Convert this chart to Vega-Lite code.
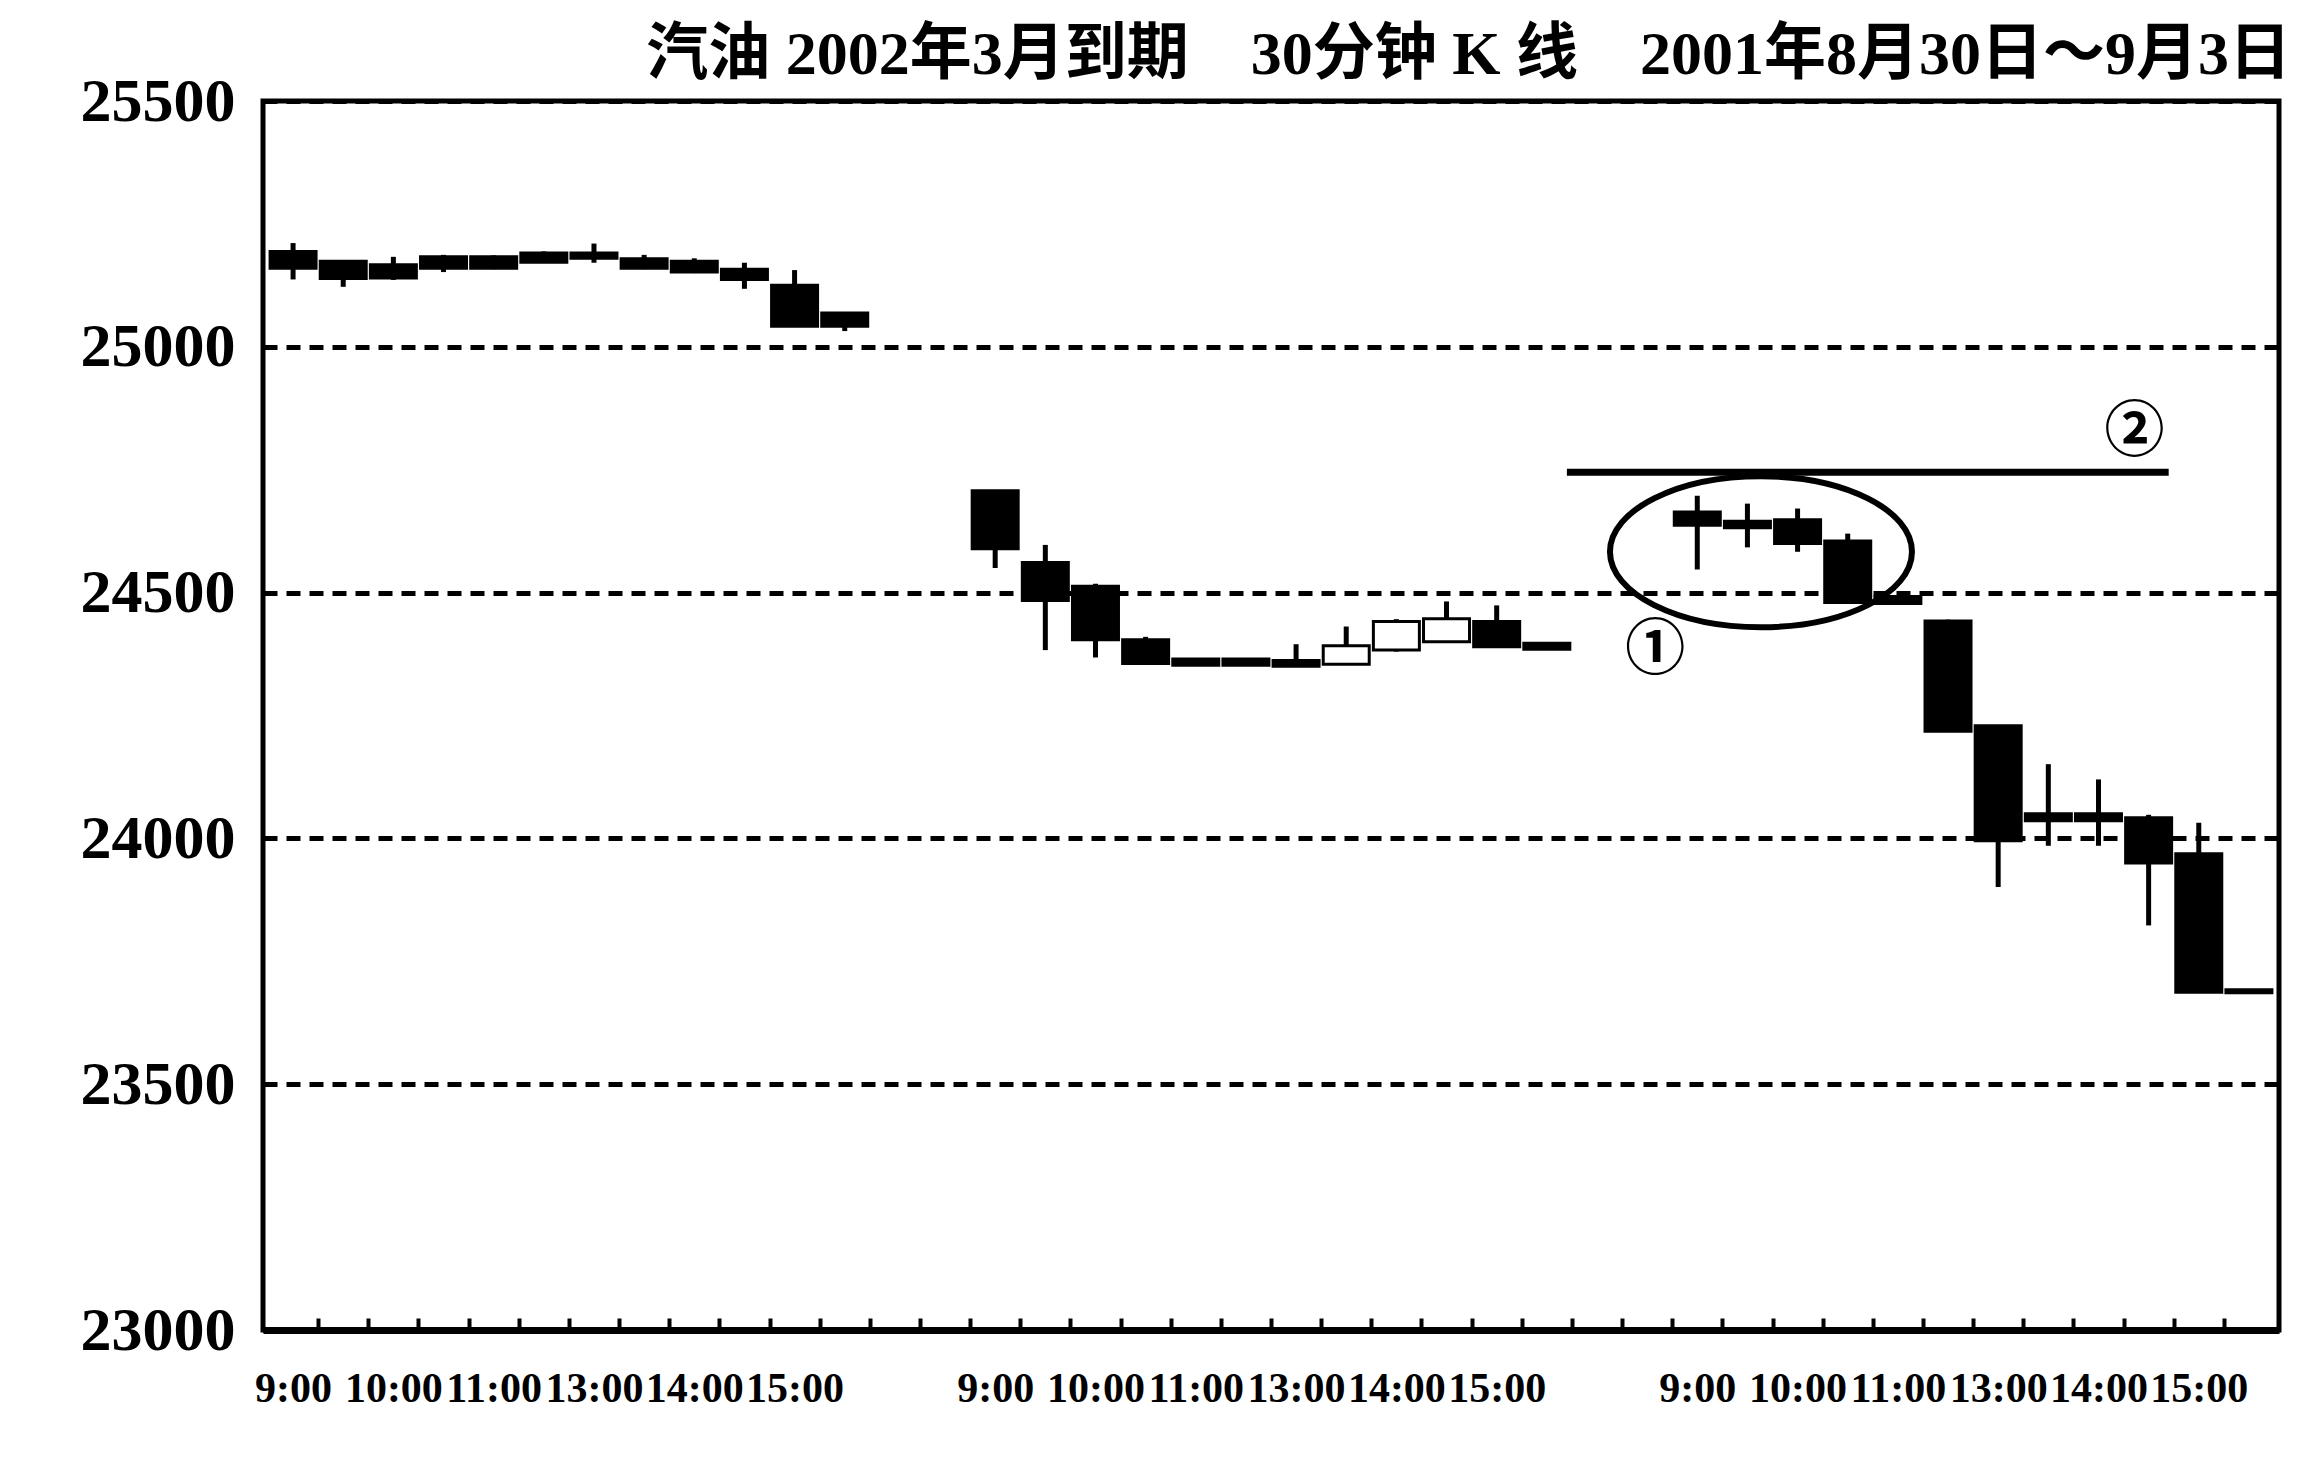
{
  "$schema": "https://vega.github.io/schema/vega-lite/v6.json",
  "width": 2016,
  "height": 1229,
  "autosize": {"type": "none"},
  "padding": {"left": 263, "top": 101, "right": 42, "bottom": 145},
  "background": "white",
  "config": {"view": {"stroke": "black", "strokeWidth": 5}},
  "title": {
    "text": "汽油 2002年3月到期　30分钟 K 线　2001年8月30日～9月3日",
    "anchor": "end",
    "orient": "top",
    "frame": "group",
    "baseline": "alphabetic",
    "offset": 20,
    "dy": 86,
    "dx": 12,
    "font": "Liberation Serif, Noto Sans CJK SC",
    "fontSize": 62,
    "fontWeight": "bold",
    "color": "black"
  },
  "datasets": {
    "candles": [
      {"date": "2001-08-30", "slot": 0, "open": 25194, "high": 25211, "low": 25137, "close": 25160},
      {"date": "2001-08-30", "slot": 1, "open": 25174, "high": 25176, "low": 25122, "close": 25139},
      {"date": "2001-08-30", "slot": 2, "open": 25167, "high": 25183, "low": 25136, "close": 25140},
      {"date": "2001-08-30", "slot": 3, "open": 25183, "high": 25187, "low": 25152, "close": 25160},
      {"date": "2001-08-30", "slot": 4, "open": 25183, "high": 25186, "low": 25158, "close": 25160},
      {"date": "2001-08-30", "slot": 5, "open": 25191, "high": 25194, "low": 25171, "close": 25172},
      {"date": "2001-08-30", "slot": 6, "open": 25191, "high": 25210, "low": 25171, "close": 25180},
      {"date": "2001-08-30", "slot": 7, "open": 25179, "high": 25187, "low": 25158, "close": 25160},
      {"date": "2001-08-30", "slot": 8, "open": 25174, "high": 25180, "low": 25150, "close": 25152},
      {"date": "2001-08-30", "slot": 9, "open": 25158, "high": 25171, "low": 25118, "close": 25137},
      {"date": "2001-08-30", "slot": 10, "open": 25125, "high": 25156, "low": 25042, "close": 25042},
      {"date": "2001-08-30", "slot": 11, "open": 25069, "high": 25069, "low": 25032, "close": 25042},
      {"date": "2001-08-31", "slot": 14, "open": 24707, "high": 24707, "low": 24550, "close": 24589},
      {"date": "2001-08-31", "slot": 15, "open": 24561, "high": 24597, "low": 24383, "close": 24484},
      {"date": "2001-08-31", "slot": 16, "open": 24513, "high": 24518, "low": 24368, "close": 24404},
      {"date": "2001-08-31", "slot": 17, "open": 24404, "high": 24410, "low": 24356, "close": 24356},
      {"date": "2001-08-31", "slot": 18, "open": 24365, "high": 24365, "low": 24352, "close": 24352},
      {"date": "2001-08-31", "slot": 19, "open": 24365, "high": 24365, "low": 24352, "close": 24352},
      {"date": "2001-08-31", "slot": 20, "open": 24362, "high": 24395, "low": 24350, "close": 24350},
      {"date": "2001-08-31", "slot": 21, "open": 24354, "high": 24431, "low": 24354, "close": 24392},
      {"date": "2001-08-31", "slot": 22, "open": 24383, "high": 24446, "low": 24380, "close": 24441},
      {"date": "2001-08-31", "slot": 23, "open": 24400, "high": 24482, "low": 24398, "close": 24447},
      {"date": "2001-08-31", "slot": 24, "open": 24441, "high": 24474, "low": 24390, "close": 24390},
      {"date": "2001-08-31", "slot": 25, "open": 24397, "high": 24397, "low": 24385, "close": 24385},
      {"date": "2001-09-03", "slot": 28, "open": 24664, "high": 24697, "low": 24547, "close": 24637},
      {"date": "2001-09-03", "slot": 29, "open": 24645, "high": 24681, "low": 24592, "close": 24632},
      {"date": "2001-09-03", "slot": 30, "open": 24648, "high": 24671, "low": 24583, "close": 24600},
      {"date": "2001-09-03", "slot": 31, "open": 24605, "high": 24620, "low": 24480, "close": 24480},
      {"date": "2001-09-03", "slot": 32, "open": 24492, "high": 24492, "low": 24478, "close": 24478},
      {"date": "2001-09-03", "slot": 33, "open": 24442, "high": 24445, "low": 24218, "close": 24218},
      {"date": "2001-09-03", "slot": 34, "open": 24229, "high": 24229, "low": 23901, "close": 23995},
      {"date": "2001-09-03", "slot": 35, "open": 24050, "high": 24151, "low": 23985, "close": 24036},
      {"date": "2001-09-03", "slot": 36, "open": 24050, "high": 24120, "low": 23985, "close": 24036},
      {"date": "2001-09-03", "slot": 37, "open": 24042, "high": 24048, "low": 23823, "close": 23950},
      {"date": "2001-09-03", "slot": 38, "open": 23969, "high": 24032, "low": 23687, "close": 23687},
      {"date": "2001-09-03", "slot": 39, "open": 23692, "high": 23692, "low": 23686, "close": 23686}
    ],
    "ellipse": [{"slot": 29.27, "price": 24583}],
    "level": [{"from": 25.4, "to": 37.4, "price": 24745}],
    "marks": [
      {"slot": 27.16, "price": 24381, "label": "①"},
      {"slot": 36.72, "price": 24825, "label": "②"}
    ]
  },
  "resolve": {"axis": {"x": "independent", "y": "independent"}},
  "layer": [
    {
      "data": {"name": "candles"},
      "mark": {"type": "rule", "color": "black", "strokeWidth": 5},
      "encoding": {
        "x": {
          "field": "slot", "type": "quantitative",
          "scale": {"domain": [-0.5, 39.5], "nice": false, "zero": false},
          "axis": {
            "orient": "bottom",
            "values": [0.5,1.5,2.5,3.5,4.5,5.5,6.5,7.5,8.5,9.5,10.5,11.5,12.5,13.5,14.5,15.5,16.5,17.5,18.5,19.5,20.5,21.5,22.5,23.5,24.5,25.5,26.5,27.5,28.5,29.5,30.5,31.5,32.5,33.5,34.5,35.5,36.5,37.5,38.5],
            "labels": false, "tickSize": -12, "tickWidth": 4, "tickColor": "black",
            "domain": true, "domainWidth": 7, "domainColor": "black",
            "grid": false, "title": null
          }
        },
        "y": {
          "field": "low", "type": "quantitative",
          "scale": {"domain": [23000, 25500], "nice": false, "zero": false},
          "axis": {
            "orient": "left",
            "values": [23000, 23500, 24000, 24500, 25000, 25500],
            "format": "d",
            "grid": true, "gridDash": [14, 9], "gridWidth": 5, "gridColor": "black", "gridOpacity": 1,
            "ticks": false, "domain": false,
            "labelFont": "Liberation Serif", "labelFontSize": 62, "labelFontWeight": "bold",
            "labelColor": "black", "labelPadding": 28, "title": null
          }
        },
        "y2": {"field": "high"}
      }
    },
    {
      "data": {"name": "candles"},
      "mark": {"type": "bar", "width": 46, "stroke": "black", "strokeWidth": 3},
      "encoding": {
        "x": {
          "field": "slot", "type": "quantitative",
          "axis": {
            "orient": "bottom",
            "values": [0,2,4,6,8,10,14,16,18,20,22,24,28,30,32,34,36,38],
            "labelExpr": "['9:00','10:00','11:00','13:00','14:00','15:00'][floor((datum.value % 14) / 2)]",
            "ticks": false, "domain": false, "grid": false,
            "labelFont": "Liberation Serif", "labelFontSize": 42, "labelFontWeight": "bold",
            "labelColor": "black", "labelPadding": 38, "labelFlush": false, "labelOverlap": false,
            "title": null
          }
        },
        "y": {"field": "open", "type": "quantitative", "axis": null},
        "y2": {"field": "close"},
        "fill": {"condition": {"test": "datum.close > datum.open", "value": "white"}, "value": "black"}
      }
    },
    {
      "data": {"name": "level"},
      "mark": {"type": "rule", "color": "black", "strokeWidth": 7},
      "encoding": {
        "x": {"field": "from", "type": "quantitative", "axis": null},
        "x2": {"field": "to"},
        "y": {"field": "price", "type": "quantitative", "axis": null}
      }
    },
    {
      "data": {"name": "ellipse"},
      "mark": {"type": "point", "shape": "M -1 0 A 1 0.5 0 1 1 1 0 A 1 0.5 0 1 1 -1 0 Z", "size": 91204, "filled": false, "stroke": "black", "strokeWidth": 6, "opacity": 1},
      "encoding": {
        "x": {"field": "slot", "type": "quantitative", "axis": null},
        "y": {"field": "price", "type": "quantitative", "axis": null}
      }
    },
    {
      "data": {"name": "marks"},
      "mark": {"type": "text", "font": "Noto Sans CJK SC", "fontSize": 60, "fontWeight": "bold", "color": "black", "baseline": "middle", "align": "center"},
      "encoding": {
        "x": {"field": "slot", "type": "quantitative", "axis": null},
        "y": {"field": "price", "type": "quantitative", "axis": null},
        "text": {"field": "label"}
      }
    }
  ]
}
